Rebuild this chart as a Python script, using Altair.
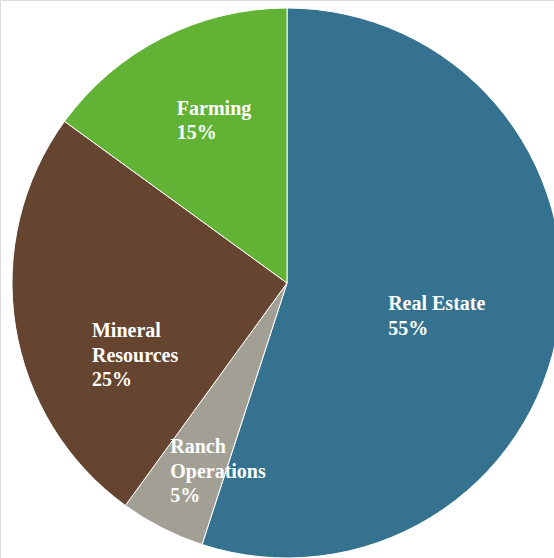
import altair as alt
import pandas as pd

categories = ["Real Estate", "Ranch Operations", "Mineral Resources", "Farming"]
shares = [55, 5, 25, 15]
label_lines = [["Real Estate", "55%"], ["Ranch", "Operations", "5%"],
               ["Mineral", "Resources", "25%"], ["Farming", "15%"]]
colors = ["#34728F", "#A2A094", "#654530", "#62B236"]

df = pd.DataFrame({
    "category": categories,
    "share": shares,
    "order": list(range(len(categories))),
    "label": label_lines,
})

CX, CY, R = 287, 283, 275
theta_scale = alt.Scale(domain=[0, 100])

pie = alt.Chart(df).mark_arc(outerRadius=R, stroke="white", strokeWidth=1).encode(
    theta=alt.Theta("share:Q", stack=True, scale=theta_scale),
    order=alt.Order("order:Q"),
    x=alt.value(CX),
    y=alt.value(CY),
    color=alt.Color("category:N", scale=alt.Scale(domain=categories, range=colors), legend=None),
)

text_base = alt.Chart(df).transform_window(
    cum="sum(share)", sort=[alt.SortField("order")]
).transform_calculate(
    mid="datum.cum - datum.share / 2"
).encode(
    theta=alt.Theta("mid:Q", stack=None, scale=theta_scale),
    x=alt.value(CX),
    y=alt.value(CY),
    text="label",
)

# label placement: radius along the slice's mid-angle plus a small offset
placements = {
    "Real Estate": (150, -47, 4),
    "Ranch Operations": (200, -26, -8),
    "Mineral Resources": (160, -37, 29),
    "Farming": (170, -33, -17),
}

layers = [pie]
for cat, (rad, dx, dy) in placements.items():
    layers.append(
        text_base.transform_filter(alt.datum.category == cat).mark_text(
            radius=rad, dx=dx, dy=dy, align="left", baseline="alphabetic",
            font="Liberation Serif", fontWeight="bold", fontSize=20,
            lineHeight=24.5, color="white",
        )
    )

chart = alt.layer(*layers).properties(
    width=554, height=558, autosize=alt.AutoSizeParams(type="none"), padding=0
).configure_view(stroke=None).configure(background="white")

chart.save("out.html", embed_options={"renderer": "svg", "actions": False})
